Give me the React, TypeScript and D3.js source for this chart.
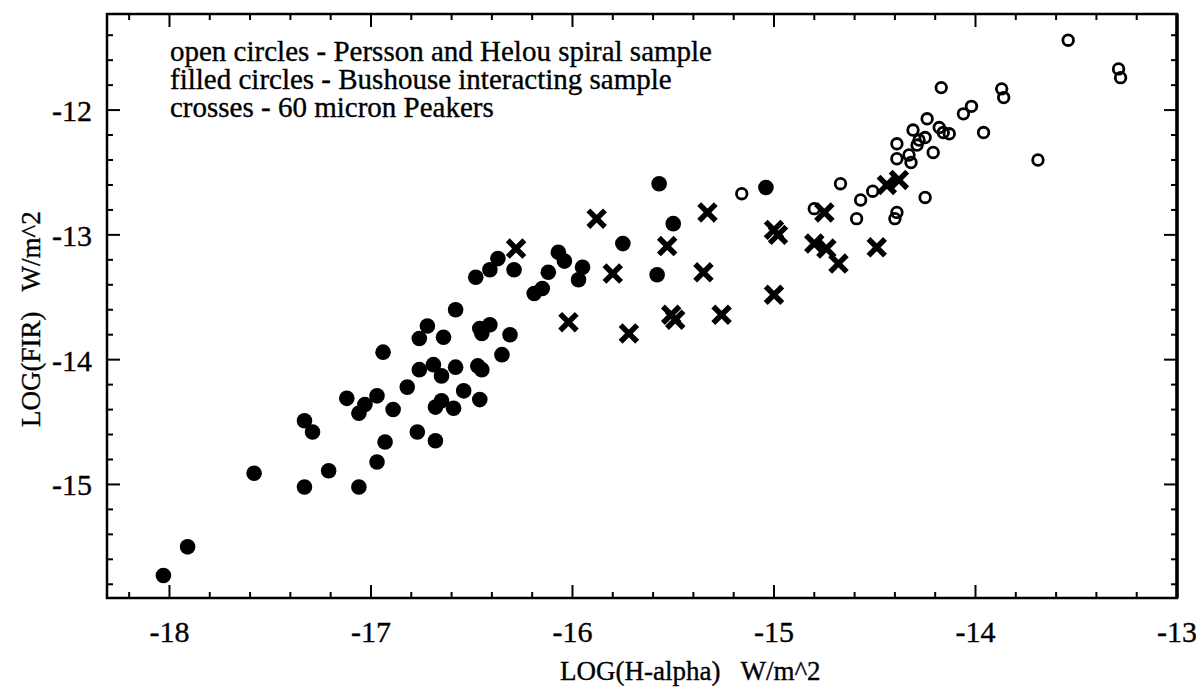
import React from "react";
import * as d3 from "d3";

// LOG(H-alpha), LOG(FIR) pairs in W/m^2
const filledCircles: [number, number][] = [
  [-18.03, -15.73], [-17.91, -15.5], [-17.58, -14.91], [-17.33, -15.02], [-17.21, -14.89],
  [-17.06, -15.02], [-16.97, -14.82], [-16.93, -14.66], [-16.68, -14.65], [-16.77, -14.58],
  [-17.29, -14.58], [-17.33, -14.49], [-16.89, -14.4], [-17.03, -14.36], [-17.06, -14.43],
  [-16.97, -14.29], [-17.12, -14.31], [-16.82, -14.22], [-16.68, -14.38], [-16.59, -14.39],
  [-16.65, -14.33], [-16.54, -14.25], [-16.46, -14.32], [-16.94, -13.94], [-16.76, -14.08],
  [-16.69, -14.04], [-16.65, -14.13], [-16.58, -14.06], [-16.47, -14.05], [-16.45, -14.08],
  [-16.35, -13.96], [-16.76, -13.83], [-16.72, -13.73], [-16.64, -13.82], [-16.58, -13.6],
  [-16.46, -13.75], [-16.41, -13.72], [-16.45, -13.79], [-16.31, -13.8], [-16.48, -13.34],
  [-16.41, -13.28], [-16.37, -13.19], [-16.29, -13.28], [-16.07, -13.14], [-16.04, -13.21],
  [-16.12, -13.3], [-16.19, -13.47], [-16.15, -13.43], [-15.95, -13.26], [-15.97, -13.36],
  [-15.75, -13.07], [-15.57, -12.59], [-15.5, -12.91], [-15.58, -13.32], [-15.04, -12.62],
];

const openCircles: [number, number][] = [
  [-15.16, -12.67], [-14.67, -12.59], [-14.57, -12.72], [-14.51, -12.65], [-14.25, -12.7],
  [-14.8, -12.79], [-14.59, -12.87], [-14.39, -12.82], [-14.4, -12.87], [-13.69, -12.4],
  [-13.54, -11.44], [-13.29, -11.67], [-13.28, -11.74], [-14.17, -11.82], [-13.87, -11.83],
  [-13.86, -11.9], [-14.06, -12.03], [-14.02, -11.97], [-13.96, -12.18], [-14.24, -12.07],
  [-14.31, -12.16], [-14.18, -12.14], [-14.16, -12.18], [-14.13, -12.19], [-14.25, -12.22],
  [-14.29, -12.28], [-14.39, -12.27], [-14.39, -12.39], [-14.33, -12.36], [-14.32, -12.42],
  [-14.21, -12.34], [-14.28, -12.24],
];

const crosses: [number, number][] = [
  [-16.28, -13.11], [-15.88, -12.87], [-15.33, -12.82], [-15.53, -13.09], [-15.8, -13.31],
  [-15.35, -13.3], [-15.0, -12.96], [-14.98, -13.0], [-15.0, -13.48], [-16.02, -13.7],
  [-15.72, -13.79], [-15.51, -13.64], [-15.49, -13.68], [-15.26, -13.64], [-14.75, -12.82],
  [-14.8, -13.07], [-14.74, -13.11], [-14.68, -13.23], [-14.49, -13.1], [-14.44, -12.6],
  [-14.38, -12.56],
];

const xTickValues = [-18, -17, -16, -15, -14, -13];
const yTickValues = [-15, -14, -13, -12];
const legendLines = [
  "open circles - Persson and Helou spiral sample",
  "filled circles - Bushouse interacting sample",
  "crosses - 60 micron Peakers",
];

const W = 1196;
const H = 696;
const L = 107, R = 1177, T = 14, B = 598;

export default function App() {
  const x = d3.scaleLinear().domain([-18.31, -13]).range([L, R]);
  const y = d3.scaleLinear().domain([-15.91, -11.23]).range([B, T]);

  const xMinor = d3.range(-18.2, -13.0001, 0.2).map((v) => +v.toFixed(2));
  const yMinor = d3.range(-15.8, -11.3, 0.2).map((v) => +v.toFixed(2));
  const isMajor = (v: number) => Math.abs(v - Math.round(v)) < 1e-6;

  const font = "'Liberation Serif', 'Times New Roman', Times, serif";
  const cs = 8.3;

  return (
    <svg
      width={W}
      height={H}
      style={{ position: "absolute", left: 0, top: 0, background: "#fff" }}
      fontFamily={font}
    >
      <rect x={0} y={0} width={W} height={H} fill="#fff" />
      {/* ticks */}
      <g stroke="#000" strokeWidth={2}>
        {xMinor.map((v, i) => {
          const len = isMajor(v) ? 13 : 6;
          return (
            <g key={"xt" + i}>
              <line x1={x(v)} x2={x(v)} y1={B} y2={B - len} />
              <line x1={x(v)} x2={x(v)} y1={T} y2={T + len} />
            </g>
          );
        })}
        {yMinor.map((v, i) => {
          const len = isMajor(v) ? 13 : 6;
          return (
            <g key={"yt" + i}>
              <line x1={L} x2={L + len} y1={y(v)} y2={y(v)} />
              <line x1={R} x2={R - len} y1={y(v)} y2={y(v)} />
            </g>
          );
        })}
      </g>
      {/* frame */}
      <rect x={L} y={T} width={R - L} height={B - T} fill="none" stroke="#000" strokeWidth={2.5} />
      <line x1={R} x2={R} y1={T} y2={B} stroke="#000" strokeWidth={3.5} />

      {/* tick labels */}
      <g fontSize={30} fill="#000" stroke="#000" strokeWidth={0.35}>
        {xTickValues.map((v) => (
          <text key={"xl" + v} x={x(v)} y={642} textAnchor="middle">
            {String(v)}
          </text>
        ))}
        {yTickValues.map((v) => (
          <text key={"yl" + v} x={92} y={y(v) + 11} textAnchor="end">
            {String(v)}
          </text>
        ))}
      </g>

      {/* axis titles */}
      <g fill="#000" stroke="#000" strokeWidth={0.35}>
        <text x={560} y={680} fontSize={27}>
          LOG(H-alpha)<tspan dx={20}>W/m^2</tspan>
        </text>
        <text transform="translate(40,427) rotate(-90)" fontSize={27}>
          LOG(FIR)<tspan dx={20}>W/m^2</tspan>
        </text>
      </g>

      {/* legend */}
      <g fontSize={29} fill="#000" stroke="#000" strokeWidth={0.35}>
        {legendLines.map((t, i) => (
          <text key={"lg" + i} x={170} y={61 + i * 28}>
            {t}
          </text>
        ))}
      </g>

      {/* data */}
      <g fill="#000">
        {filledCircles.map(([a, b], i) => (
          <circle key={"f" + i} cx={x(a)} cy={y(b)} r={7.8} />
        ))}
      </g>
      <g stroke="#000" strokeWidth={5.5} fill="none">
        {crosses.map(([a, b], i) => {
          const cx = x(a), cy = y(b);
          return (
            <path
              key={"c" + i}
              d={`M${cx - cs},${cy - cs}L${cx + cs},${cy + cs}M${cx - cs},${cy + cs}L${cx + cs},${cy - cs}`}
            />
          );
        })}
      </g>
      <g stroke="#000" strokeWidth={2.8} fill="none">
        {openCircles.map(([a, b], i) => (
          <circle key={"o" + i} cx={x(a)} cy={y(b)} r={5.3} />
        ))}
      </g>
    </svg>
  );
}
